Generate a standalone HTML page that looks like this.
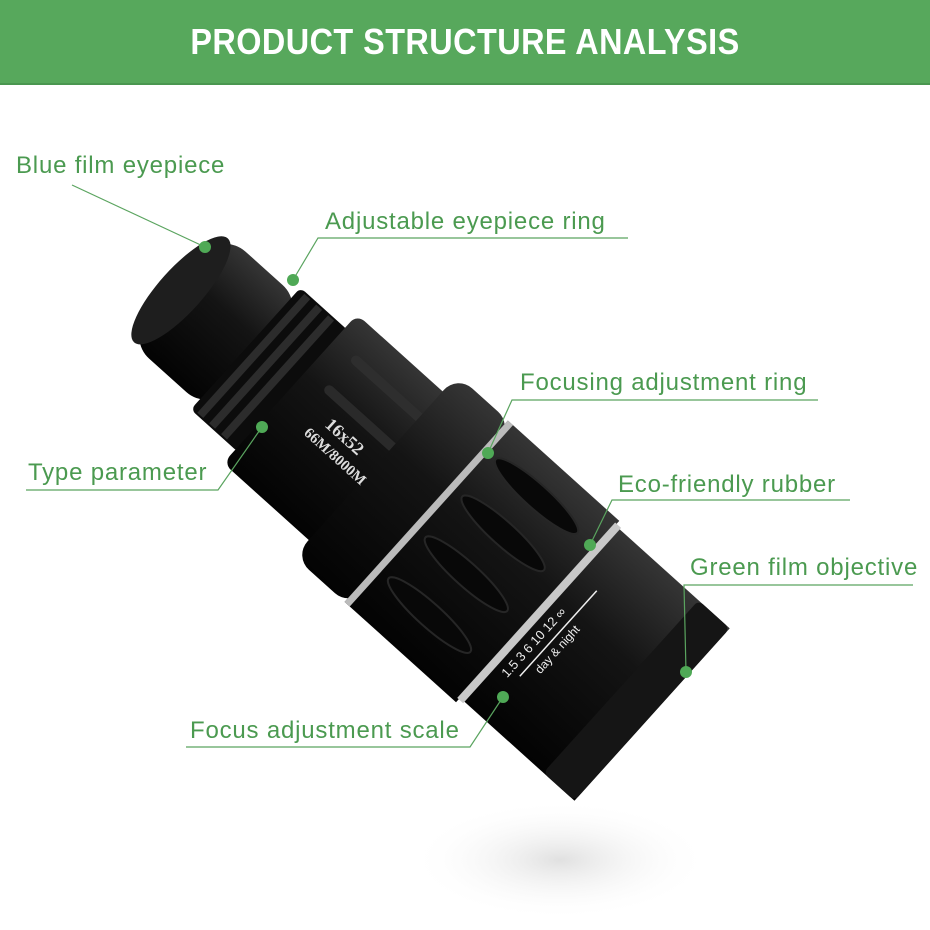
<!DOCTYPE html>
<html><head><meta charset="utf-8"><style>
html,body{margin:0;padding:0;background:#fff}
#w{position:relative;width:930px;height:930px;overflow:hidden;background:#fff;font-family:"Liberation Sans",sans-serif}
.hd{position:absolute;left:0;top:0;width:930px;height:83px;background:#57a85c;border-bottom:2px solid #4a9650}
.hd div{position:absolute;left:0;right:0;top:21px;text-align:center;color:#fff;font-weight:bold;font-size:36px;letter-spacing:0.5px;transform:scaleX(0.9)}
.l{position:absolute;color:#4b9a50;font-size:24px;letter-spacing:0.8px;white-space:nowrap}
</style></head><body><div id="w">
<div class="hd"><div>PRODUCT STRUCTURE ANALYSIS</div></div>
<svg width="930" height="930" style="position:absolute;left:0;top:0">
<defs>
<linearGradient id="gy" x1="0" y1="0" x2="0" y2="1"><stop offset="0" stop-color="#353535"/><stop offset="0.4" stop-color="#141414"/><stop offset="1" stop-color="#030303"/></linearGradient>
<radialGradient id="sh" cx="0.5" cy="0.5" r="0.5"><stop offset="0" stop-color="#ccc" stop-opacity="0.6"/><stop offset="1" stop-color="#fff" stop-opacity="0"/></radialGradient>
</defs>
<ellipse cx="560" cy="860" rx="150" ry="60" fill="url(#sh)"/>
<g transform="translate(175,285) rotate(42)">
<rect x="0" y="-72" width="110" height="144" rx="30" fill="url(#gy)"/>
<ellipse cx="8" cy="0" rx="22" ry="70" fill="#1e1e1e"/>
<rect x="95" y="-82" width="65" height="164" rx="6" fill="#0c0c0c"/>
<g fill="#2c2c2c"><rect x="102" y="-80" width="8" height="160"/><rect x="118" y="-80" width="8" height="160"/><rect x="134" y="-80" width="8" height="160"/></g>
<rect x="155" y="-100" width="140" height="200" rx="10" fill="url(#gy)"/>
<rect x="180" y="-70" width="100" height="10" rx="5" fill="#2e2e2e"/>
<rect x="180" y="-30" width="100" height="10" rx="5" fill="#2a2a2a"/>
<rect x="270" y="-122" width="75" height="244" rx="20" fill="url(#gy)"/>
<rect x="338" y="-122" width="150" height="244" fill="url(#gy)"/>
<rect x="338" y="-122" width="7" height="244" fill="#bbb"/>
<g fill="#080808" stroke="#262626" stroke-width="2">
<ellipse cx="410" cy="-85" rx="55" ry="12"/><ellipse cx="410" cy="-35" rx="55" ry="12"/><ellipse cx="410" cy="20" rx="55" ry="12"/><ellipse cx="410" cy="75" rx="55" ry="12"/></g>
<rect x="486" y="-118" width="8" height="236" fill="#c8c8c8"/>
<rect x="494" y="-116" width="148" height="232" fill="url(#gy)"/>
<rect x="600" y="-116" width="42" height="232" rx="6" fill="#151515"/>
<text x="205" y="5" fill="#ddd" font-family="Liberation Serif" font-size="18" font-weight="bold">16x52</text>
<text x="195" y="25" fill="#ddd" font-family="Liberation Serif" font-size="15" font-weight="bold">66M/8000M</text>
<text x="510" y="70" fill="#eee" font-size="13" transform="rotate(-90 510 70)">1.5 3 6 10 12 ∞</text>
<line x1="518" y1="60" x2="518" y2="-55" stroke="#eee" stroke-width="1.5"/>
<text x="532" y="45" fill="#eee" font-size="12" transform="rotate(-90 532 45)">day &amp; night</text>
</g>
<g stroke="#5aa45f" stroke-width="1.2" fill="none">
<polyline points="72,185 205,247"/>
<polyline points="628,238 318,238 293,280"/>
<polyline points="818,400 512,400 488,453"/>
<polyline points="26,490 218,490 262,427"/>
<polyline points="850,500 612,500 590,545"/>
<polyline points="913,585 684,585 686,672"/>
<polyline points="186,747 470,747 503,697"/>
</g>
<g fill="#4fa956">
<circle cx="205" cy="247" r="6"/><circle cx="293" cy="280" r="6"/><circle cx="488" cy="453" r="6"/>
<circle cx="262" cy="427" r="6"/><circle cx="590" cy="545" r="6"/><circle cx="686" cy="672" r="6"/><circle cx="503" cy="697" r="6"/>
</g>
</svg>
<div class="l" style="left:16px;top:152px">Blue film eyepiece</div>
<div class="l" style="left:325px;top:208px">Adjustable eyepiece ring</div>
<div class="l" style="left:520px;top:369px">Focusing adjustment ring</div>
<div class="l" style="left:28px;top:459px">Type parameter</div>
<div class="l" style="left:618px;top:471px">Eco-friendly rubber</div>
<div class="l" style="left:690px;top:554px">Green film objective</div>
<div class="l" style="left:190px;top:717px">Focus adjustment scale</div>
</div></body></html>
